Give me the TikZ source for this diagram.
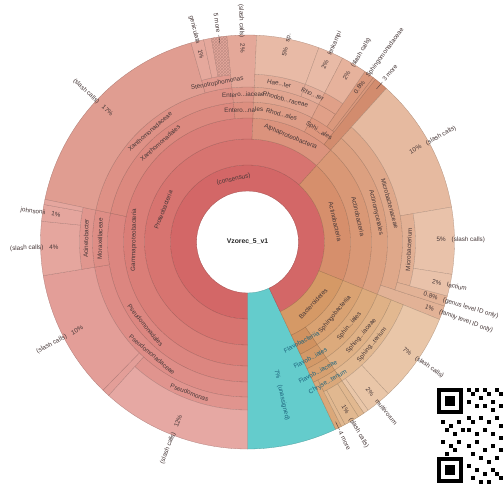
\documentclass[tikz,border=0pt]{standalone}
\usepackage{fontspec}
\setmainfont{Liberation Sans}
\usetikzlibrary{patterns}

\definecolor{cy}{RGB}{100,204,204}
\definecolor{c0}{RGB}{211,103,103}
\definecolor{pro}{RGB}{215,116,112}
\definecolor{gam}{RGB}{218,126,120}
\definecolor{psdo}{RGB}{220,134,128}
\definecolor{psdf}{RGB}{222,141,135}
\definecolor{psdg}{RGB}{224,148,142}
\definecolor{psds}{RGB}{230,168,163}
\definecolor{psdt}{RGB}{227,158,152}
\definecolor{morf}{RGB}{222,142,134}
\definecolor{acin}{RGB}{224,150,142}
\definecolor{acs}{RGB}{229,166,158}
\definecolor{xano}{RGB}{220,137,127}
\definecolor{xanf}{RGB}{222,145,134}
\definecolor{xsev}{RGB}{224,157,145}
\definecolor{steno}{RGB}{225,154,143}
\definecolor{stes}{RGB}{229,168,156}
\definecolor{ento}{RGB}{221,143,128}
\definecolor{entf}{RGB}{223,151,137}
\definecolor{entl}{RGB}{228,168,153}
\definecolor{alp}{RGB}{219,147,125}
\definecolor{rhdo}{RGB}{222,157,135}
\definecolor{rhdf}{RGB}{225,165,144}
\definecolor{hae}{RGB}{227,172,152}
\definecolor{haes}{RGB}{232,186,166}
\definecolor{sphgo}{RGB}{221,150,125}
\definecolor{sphgf}{RGB}{224,160,136}
\definecolor{sphgs}{RGB}{230,178,156}
\definecolor{morethree}{RGB}{210,140,110}
\definecolor{sphleaf}{RGB}{218,152,124}
\definecolor{act}{RGB}{214,143,108}
\definecolor{actc}{RGB}{217,152,118}
\definecolor{acto}{RGB}{220,160,128}
\definecolor{mbf}{RGB}{223,168,138}
\definecolor{mbg}{RGB}{226,176,148}
\definecolor{actt}{RGB}{230,186,160}
\definecolor{mbs}{RGB}{233,194,170}
\definecolor{famonly}{RGB}{226,178,150}
\definecolor{bac}{RGB}{213,153,102}
\definecolor{sph}{RGB}{217,162,114}
\definecolor{spho}{RGB}{220,170,124}
\definecolor{sphf}{RGB}{223,177,134}
\definecolor{sphg}{RGB}{226,184,144}
\definecolor{sphs}{RGB}{233,198,168}
\definecolor{fla}{RGB}{208,146,96}
\definecolor{flao}{RGB}{211,153,104}
\definecolor{flaf}{RGB}{214,160,112}
\definecolor{chry}{RGB}{218,168,122}
\definecolor{chrys}{RGB}{225,184,144}
\definecolor{labc}{RGB}{70,55,55}
\definecolor{tealc}{RGB}{30,100,125}

% sector: fill, f1, f2, r1, r2  (f clockwise from bottom)
\newcommand\kseg[5]{%
 \pgfmathsetmacro\kaA{270-360*#2}%
 \pgfmathsetmacro\kaB{270-360*#3}%
 \filldraw[fill=#1, draw=#1!78!black, line width=0.3pt]
  (\kaA:#4pt) arc[start angle=\kaA, end angle=\kaB, radius=#4pt]
  -- (\kaB:#5pt) arc[start angle=\kaB, end angle=\kaA, radius=#5pt] -- cycle;}
\newcommand\khatch[5]{%
 \kseg{#1}{#2}{#3}{#4}{#5}%
 \fill[pattern=crosshatch, pattern color=#1!85!black]
  (\kaA:#4pt) arc[start angle=\kaA, end angle=\kaB, radius=#4pt]
  -- (\kaB:#5pt) arc[start angle=\kaB, end angle=\kaA, radius=#5pt] -- cycle;}
% tangential label: name, f, r, text, style
\newcommand\ktl[5]{%
 \pgfmathsetmacro\kaL{270-360*#2}%
 \pgfmathsetmacro\ksL{sin(\kaL)}%
 \ifdim\ksL pt<0pt \pgfmathsetmacro\krL{\kaL+90}\else\pgfmathsetmacro\krL{\kaL-90}\fi
 \node[lab,#5,rotate=\krL] (#1) at (\kaL:#3pt) {#4};}
% radial leaf label: name, f, pct, text, style, gap, rout
\newcommand\krlx[7]{%
 \pgfmathsetmacro\kaL{270-360*#2}%
 \pgfmathsetmacro\kcL{cos(\kaL)}%
 \ifdim\kcL pt>0pt
  \node[lab,#5,rotate=\kaL,anchor=west] (#1) at (\kaL:#7pt)
     {\makebox[0pt][r]{#3\hspace{#6pt}}#4};
 \else
  \pgfmathsetmacro\krL{\kaL-180}%
  \node[lab,#5,rotate=\krL,anchor=east] (#1) at (\kaL:#7pt)
     {#4\makebox[0pt][l]{\hspace{#6pt}#3}};
 \fi}
\newcommand\krl[4]{\krlx{#1}{#2}{#3}{#4}{}{6}{204}}
\newcommand\kdash{\rule[0.6ex]{9pt}{0.35pt}}

\begin{document}
\begin{tikzpicture}[x=1pt,y=1pt,
  lab/.style={font=\fontsize{6.3}{7}\selectfont, text=labc, inner sep=0pt},
  teal/.style={text=tealc}]
\useasboundingbox (-247.5,-241) rectangle (256.5,242);
\fill[white] (-247.5,-241) rectangle (256.5,242);

% unassigned + root ring
\kseg{cy}{0.93}{1.0}{51}{207}
\kseg{c0}{0}{0.93}{51}{77}
% phylum
\kseg{pro}{0}{0.617}{77}{103}
\kseg{act}{0.617}{0.811}{77}{103}
\kseg{bac}{0.811}{0.93}{77}{103}
% class
\kseg{gam}{0}{0.507}{103}{124}
\kseg{alp}{0.507}{0.617}{103}{124}
\kseg{actc}{0.617}{0.811}{103}{124}
\kseg{sph}{0.811}{0.905}{103}{124}
\kseg{fla}{0.905}{0.93}{103}{124}
% order
\kseg{psdo}{0}{0.283}{124}{140}
\kseg{xano}{0.283}{0.484}{124}{140}
\kseg{ento}{0.484}{0.507}{124}{140}
\kseg{rhdo}{0.507}{0.576}{124}{140}
\kseg{sphgo}{0.576}{0.606}{124}{140}
\kseg{morethree}{0.606}{0.617}{124}{207}
\kseg{acto}{0.617}{0.811}{124}{140}
\kseg{spho}{0.811}{0.905}{124}{140}
\kseg{flao}{0.905}{0.93}{124}{140}
% family
\kseg{psdf}{0}{0.224}{140}{155}
\kseg{morf}{0.224}{0.283}{140}{155}
\kseg{xanf}{0.283}{0.484}{140}{155}
\kseg{entf}{0.484}{0.507}{140}{155}
\kseg{rhdf}{0.507}{0.576}{140}{155}
\kseg{sphgf}{0.576}{0.596}{140}{155}
\kseg{sphleaf}{0.596}{0.604}{140}{207}
\kseg{sphleaf}{0.604}{0.606}{140}{207}
\kseg{mbf}{0.617}{0.800}{140}{155}
\kseg{famonly}{0.800}{0.811}{140}{207}
\kseg{sphf}{0.811}{0.905}{140}{155}
\kseg{flaf}{0.905}{0.93}{140}{155}
% genus
\kseg{psdg}{0}{0.117}{155}{168}
\kseg{psdt}{0.117}{0.123}{155}{207}
\kseg{psdt}{0.123}{0.224}{155}{207}
\kseg{acin}{0.224}{0.283}{155}{168}
\kseg{xsev}{0.283}{0.456}{155}{207}
\kseg{steno}{0.456}{0.484}{155}{168}
\kseg{entl}{0.484}{0.507}{155}{207}
\kseg{hae}{0.507}{0.556}{155}{168}
\kseg{hae}{0.556}{0.576}{155}{168}
\kseg{sphgf}{0.576}{0.596}{155}{168}
\kseg{actt}{0.617}{0.723}{155}{207}
\kseg{mbg}{0.723}{0.792}{155}{168}
\kseg{famonly}{0.792}{0.800}{155}{207}
\kseg{sphg}{0.811}{0.905}{155}{168}
\kseg{chry}{0.905}{0.925}{155}{168}
\kseg{chry}{0.925}{0.93}{155}{207}
% species
\kseg{psds}{0}{0.117}{168}{207}
\kseg{acs}{0.224}{0.266}{168}{207}
\kseg{acs}{0.266}{0.279}{168}{207}
\kseg{acs}{0.279}{0.283}{168}{207}
\kseg{stes}{0.456}{0.466}{168}{207}
\kseg{stes}{0.466}{0.472}{168}{207}
\khatch{stes}{0.472}{0.484}{168}{207}
\kseg{haes}{0.507}{0.556}{168}{207}
\kseg{haes}{0.556}{0.576}{168}{207}
\kseg{sphgs}{0.576}{0.596}{168}{207}
\kseg{mbs}{0.723}{0.775}{168}{207}
\kseg{mbs}{0.775}{0.792}{168}{207}
\kseg{sphs}{0.811}{0.881}{168}{207}
\kseg{sphs}{0.881}{0.901}{168}{207}
\kseg{sphs}{0.901}{0.905}{168}{207}
\kseg{chrys}{0.905}{0.91}{168}{207}
\kseg{chrys}{0.91}{0.922}{168}{207}
\kseg{chrys}{0.922}{0.925}{168}{207}

% centre
\node[font=\bfseries\fontsize{6.8}{8}\selectfont, text=black!85] (root) at (0,0) {Vzorec\_5\_v1};

% tangential labels
\ktl{lcons}{0.465}{64}{(consensus)}{}
\ktl{lpro}{0.308}{90}{Proteobacteria}{}
\ktl{lact}{0.714}{90}{Actinobacteria}{}
\ktl{lbac}{0.870}{90}{Bacteroidetes}{}
\ktl{lgam}{0.253}{113.5}{Gammaproteobacteria}{}
\ktl{lalp}{0.562}{113.5}{Alphaproteobacteria}{}
\ktl{lactc}{0.714}{113.5}{Actinobacteria}{}
\ktl{lsph}{0.860}{113.5}{Sphingobacteriia}{}
\ktl{lfla}{0.921}{113.5}{Flavobacteriia}{teal}
\ktl{lpsdo}{0.141}{132}{Pseudomonadales}{}
\ktl{lxano}{0.385}{132}{Xanthomonadales}{}
\ktl{lento}{0.4955}{132}{Entero...nales}{}
\ktl{lrhdo}{0.5415}{132}{Rhod...ales}{}
\ktl{lsphgo}{0.591}{132}{Sphi...ales}{}
\ktl{lacto}{0.714}{132}{Actinomycetales}{}
\ktl{lspho}{0.860}{132}{Sphin...iales}{}
\ktl{lflao}{0.921}{132}{Flavob...iales}{teal}
\ktl{lpsdf}{0.112}{147.5}{Pseudomonadaceae}{}
\ktl{lmorf}{0.2535}{147.5}{Moraxellaceae}{}
\ktl{lxanf}{0.385}{147.5}{Xanthomonadaceae}{}
\ktl{lentf}{0.4955}{147.5}{Entero...iaceae}{}
\ktl{lrhdf}{0.5415}{147.5}{Rhodob...raceae}{}
\ktl{lmbf}{0.708}{147.5}{Microbacteriaceae}{}
\ktl{lsphf}{0.860}{147.5}{Sphing...iaceae}{}
\ktl{lflaf}{0.921}{147.5}{Flavob...iaceae}{teal}
\ktl{lpsdg}{0.0585}{161.5}{Pseudomonas}{}
\ktl{lacin}{0.2535}{161.5}{Acinetobacter}{}
\ktl{lsteno}{0.47}{161.5}{Stenotrophomonas}{}
\ktl{lhae}{0.5315}{161.5}{Hae...ter}{}
\ktl{lrho}{0.566}{161.5}{Rho...ter}{}
\ktl{lmbg}{0.7575}{161.5}{Microbacterium}{}
\ktl{lsphg}{0.860}{161.5}{Sphing...terium}{}
\ktl{lchry}{0.917}{161.5}{Chryse...terium}{teal}

% leaf labels
\krl{s1}{0.0585}{12\%}{(slash calls)}
\krl{s2}{0.1735}{10\%}{(slash calls)}
\krl{s3}{0.2455}{4\%}{(slash calls)}
\krl{s4}{0.2725}{1\%}{johnsonii}
\krl{s5}{0.3695}{17\%}{(slash calls)}
\krl{s6}{0.461}{1\%}{geniculata}
\krlx{s7}{0.478}{}{5 more\hspace{2pt}\kdash}{}{0}{200}
\krl{s8}{0.4955}{2\%}{(slash calls)}
\krl{s9}{0.5315}{5\%}{sp.}
\krl{s10}{0.566}{2\%}{lenkampi}
\krl{s11}{0.586}{2\%}{(slash calls)}
\krl{s12}{0.600}{0.8\%}{Sphingomonadaceae}
\krlx{s13}{0.6115}{}{\kdash\hspace{2pt}3 more}{}{0}{200}
\krl{s14}{0.670}{10\%}{(slash calls)}
\krl{s15}{0.7485}{5\%}{(slash calls)}
\krl{s16}{0.7835}{2\%}{lactium}
\krl{s17}{0.796}{0.8\%}{(genus level ID only)}
\krl{s18}{0.8055}{1\%}{(family level ID only)}
\krl{s19}{0.846}{7\%}{(slash calls)}
\krl{s20}{0.891}{2\%}{multivorum}
\krl{s21}{0.916}{1\%}{(slash calls)}
\krlx{s22}{0.9275}{}{\kdash\hspace{2pt}4 more}{}{0}{200}
\krlx{s23}{0.965}{7\%}{(unassigned)}{teal}{6}{146}

% QR code (approximate)
\begin{scope}[shift={(-247.5,242)}, yscale=-1]
 \fill[black] (437,388) rectangle (463,414);
 \fill[white] (441,392) rectangle (459,410);
 \fill[black] (445,396) rectangle (455,406);
 \fill[black] (437,457) rectangle (463,483);
 \fill[white] (441,461) rectangle (459,479);
 \fill[black] (445,465) rectangle (455,475);
 \foreach \xx/\yy in {467/388,471/392,475/388,479/396,483/388,487/392,491/400,495/388,499/392,467/400,475/404,483/404,491/408,499/404,
   467/416,471/420,479/416,487/420,495/416,499/424,441/420,449/424,457/420,445/428,453/432,461/428,467/428,475/432,483/428,491/432,499/436,
   441/440,449/444,457/440,467/444,475/440,483/448,491/444,499/448,445/452,453/448,471/452,479/456,487/460,495/456,467/464,475/468,483/472,491/468,499/476,471/476,479/480,487/480,495/472}
  \fill[black] (\xx,\yy) rectangle ++(4,4);
\end{scope}
\end{tikzpicture}
\end{document}
